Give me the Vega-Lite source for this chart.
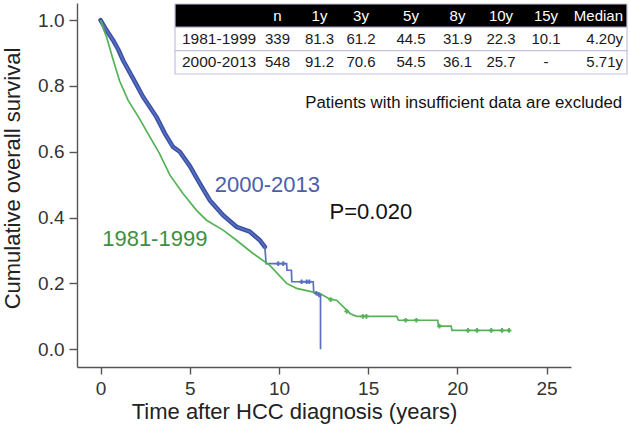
{
  "$schema": "https://vega.github.io/schema/vega-lite/v6.json",
  "width": 494,
  "height": 364,
  "autosize": {"type": "none"},
  "padding": {"left": 77, "top": 3, "right": 59, "bottom": 73},
  "background": "#ffffff",
  "config": {"view": {"stroke": null}, "font": "Liberation Sans"},
  "datasets": {
    "curves": [
      {"group": "2000-2013", "i": 0, "t": 0, "s": 1.0},
      {"group": "2000-2013", "i": 1, "t": 0.3, "s": 0.972},
      {"group": "2000-2013", "i": 2, "t": 0.7, "s": 0.939},
      {"group": "2000-2013", "i": 3, "t": 1.0, "s": 0.91},
      {"group": "2000-2013", "i": 4, "t": 1.26, "s": 0.878},
      {"group": "2000-2013", "i": 5, "t": 1.82, "s": 0.823},
      {"group": "2000-2013", "i": 6, "t": 2.38, "s": 0.767},
      {"group": "2000-2013", "i": 7, "t": 3.13, "s": 0.706},
      {"group": "2000-2013", "i": 8, "t": 3.6, "s": 0.656},
      {"group": "2000-2013", "i": 9, "t": 4.06, "s": 0.615},
      {"group": "2000-2013", "i": 10, "t": 4.44, "s": 0.6},
      {"group": "2000-2013", "i": 11, "t": 5.0, "s": 0.557},
      {"group": "2000-2013", "i": 12, "t": 5.56, "s": 0.504},
      {"group": "2000-2013", "i": 13, "t": 6.12, "s": 0.453},
      {"group": "2000-2013", "i": 14, "t": 6.87, "s": 0.407},
      {"group": "2000-2013", "i": 15, "t": 7.62, "s": 0.372},
      {"group": "2000-2013", "i": 16, "t": 8.37, "s": 0.357},
      {"group": "2000-2013", "i": 17, "t": 8.93, "s": 0.331},
      {"group": "2000-2013", "i": 18, "t": 9.21, "s": 0.311},
      {"group": "2000-2013", "i": 19, "t": 9.28, "s": 0.26},
      {"group": "2000-2013", "i": 20, "t": 10.43, "s": 0.26},
      {"group": "2000-2013", "i": 21, "t": 10.45, "s": 0.24},
      {"group": "2000-2013", "i": 22, "t": 10.7, "s": 0.24},
      {"group": "2000-2013", "i": 23, "t": 10.72, "s": 0.205},
      {"group": "2000-2013", "i": 24, "t": 11.92, "s": 0.205},
      {"group": "2000-2013", "i": 25, "t": 11.95, "s": 0.172},
      {"group": "2000-2013", "i": 26, "t": 12.33, "s": 0.164},
      {"group": "2000-2013", "i": 27, "t": 12.33, "s": 0.0},
      {"group": "1981-1999", "i": 0, "t": 0, "s": 1.0},
      {"group": "1981-1999", "i": 1, "t": 0.15, "s": 0.975},
      {"group": "1981-1999", "i": 2, "t": 0.33, "s": 0.95},
      {"group": "1981-1999", "i": 3, "t": 0.7, "s": 0.88},
      {"group": "1981-1999", "i": 4, "t": 1.07, "s": 0.815},
      {"group": "1981-1999", "i": 5, "t": 1.54, "s": 0.757},
      {"group": "1981-1999", "i": 6, "t": 2.19, "s": 0.7},
      {"group": "1981-1999", "i": 7, "t": 2.66, "s": 0.655},
      {"group": "1981-1999", "i": 8, "t": 3.3, "s": 0.595},
      {"group": "1981-1999", "i": 9, "t": 3.89, "s": 0.529},
      {"group": "1981-1999", "i": 10, "t": 4.62, "s": 0.473},
      {"group": "1981-1999", "i": 11, "t": 5.38, "s": 0.422},
      {"group": "1981-1999", "i": 12, "t": 5.94, "s": 0.392},
      {"group": "1981-1999", "i": 13, "t": 6.87, "s": 0.362},
      {"group": "1981-1999", "i": 14, "t": 7.62, "s": 0.331},
      {"group": "1981-1999", "i": 15, "t": 8.55, "s": 0.291},
      {"group": "1981-1999", "i": 16, "t": 9.49, "s": 0.255},
      {"group": "1981-1999", "i": 17, "t": 10.43, "s": 0.2},
      {"group": "1981-1999", "i": 18, "t": 10.99, "s": 0.185},
      {"group": "1981-1999", "i": 19, "t": 12.3, "s": 0.169},
      {"group": "1981-1999", "i": 20, "t": 12.86, "s": 0.152},
      {"group": "1981-1999", "i": 21, "t": 13.23, "s": 0.149},
      {"group": "1981-1999", "i": 22, "t": 14.0, "s": 0.108},
      {"group": "1981-1999", "i": 23, "t": 14.35, "s": 0.1},
      {"group": "1981-1999", "i": 24, "t": 16.6, "s": 0.1},
      {"group": "1981-1999", "i": 25, "t": 16.7, "s": 0.088},
      {"group": "1981-1999", "i": 26, "t": 18.9, "s": 0.088},
      {"group": "1981-1999", "i": 27, "t": 18.95, "s": 0.07},
      {"group": "1981-1999", "i": 28, "t": 19.65, "s": 0.07},
      {"group": "1981-1999", "i": 29, "t": 19.7, "s": 0.057},
      {"group": "1981-1999", "i": 30, "t": 22.9, "s": 0.057}
    ],
    "censor": [
      {"group": "1981-1999", "t": 12.9, "s": 0.151},
      {"group": "1981-1999", "t": 13.8, "s": 0.115},
      {"group": "1981-1999", "t": 14.7, "s": 0.1},
      {"group": "1981-1999", "t": 14.9, "s": 0.1},
      {"group": "1981-1999", "t": 17.1, "s": 0.088},
      {"group": "1981-1999", "t": 17.7, "s": 0.088},
      {"group": "1981-1999", "t": 19.0, "s": 0.07},
      {"group": "1981-1999", "t": 20.6, "s": 0.057},
      {"group": "1981-1999", "t": 21.1, "s": 0.057},
      {"group": "1981-1999", "t": 21.9, "s": 0.057},
      {"group": "1981-1999", "t": 22.5, "s": 0.057},
      {"group": "1981-1999", "t": 22.9, "s": 0.057},
      {"group": "2000-2013", "t": 9.96, "s": 0.26},
      {"group": "2000-2013", "t": 10.24, "s": 0.26},
      {"group": "2000-2013", "t": 11.27, "s": 0.205},
      {"group": "2000-2013", "t": 11.55, "s": 0.205},
      {"group": "2000-2013", "t": 11.7, "s": 0.205},
      {"group": "2000-2013", "t": 12.1, "s": 0.17},
      {"group": "2000-2013", "t": 12.25, "s": 0.165}
    ],
    "table": [
      {"row": 0, "col": 0, "text": ""},
      {"row": 0, "col": 1, "text": "n"},
      {"row": 0, "col": 2, "text": "1y"},
      {"row": 0, "col": 3, "text": "3y"},
      {"row": 0, "col": 4, "text": "5y"},
      {"row": 0, "col": 5, "text": "8y"},
      {"row": 0, "col": 6, "text": "10y"},
      {"row": 0, "col": 7, "text": "15y"},
      {"row": 0, "col": 8, "text": "Median"},
      {"row": 1, "col": 0, "text": "1981-1999"},
      {"row": 1, "col": 1, "text": "339"},
      {"row": 1, "col": 2, "text": "81.3"},
      {"row": 1, "col": 3, "text": "61.2"},
      {"row": 1, "col": 4, "text": "44.5"},
      {"row": 1, "col": 5, "text": "31.9"},
      {"row": 1, "col": 6, "text": "22.3"},
      {"row": 1, "col": 7, "text": "10.1"},
      {"row": 1, "col": 8, "text": "4.20y"},
      {"row": 2, "col": 0, "text": "2000-2013"},
      {"row": 2, "col": 1, "text": "548"},
      {"row": 2, "col": 2, "text": "91.2"},
      {"row": 2, "col": 3, "text": "70.6"},
      {"row": 2, "col": 4, "text": "54.5"},
      {"row": 2, "col": 5, "text": "36.1"},
      {"row": 2, "col": 6, "text": "25.7"},
      {"row": 2, "col": 7, "text": "-"},
      {"row": 2, "col": 8, "text": "5.71y"}
    ]
  },
  "layer": [
    {
      "layer": [
        {
          "data": {"name": "curves"},
          "transform": [{"filter": "datum.group === '2000-2013' && datum.t <= 9.21"}],
          "mark": {"type": "line", "strokeWidth": 4.5, "color": "#3750a3", "strokeJoin": "round", "strokeCap": "round"},
          "encoding": {
            "x": {
              "field": "t", "type": "quantitative",
              "scale": {"domain": [-1.32, 26.37], "nice": false, "zero": false},
              "axis": {
                "values": [0, 5, 10, 15, 20, 25], "title": "Time after HCC diagnosis (years)",
                "grid": false, "domainColor": "#555555", "domainWidth": 1.4,
                "tickColor": "#555555", "tickWidth": 1.4, "tickSize": 7,
                "labelFontSize": 19, "labelColor": "#333333", "labelPadding": 5, "labelFlush": false,
                "titleFontSize": 22, "titleFontWeight": "normal", "titleColor": "#222222",
                "titlePadding": 3, "titleX": 217
              }
            },
            "y": {
              "field": "s", "type": "quantitative",
              "scale": {"domain": [-0.054, 1.052], "nice": false, "zero": false},
              "axis": {
                "values": [0, 0.2, 0.4, 0.6, 0.8, 1.0], "format": ".1f",
                "title": "Cumulative overall survival",
                "grid": false, "domainColor": "#555555", "domainWidth": 1.4,
                "tickColor": "#555555", "tickWidth": 1.4, "tickSize": 8,
                "labelFontSize": 19, "labelColor": "#333333", "labelPadding": 5, "labelFlush": false,
                "titleFontSize": 22, "titleFontWeight": "normal", "titleColor": "#222222",
                "titlePadding": 13, "titleY": 175
              }
            },
            "order": {"field": "i", "type": "quantitative"}
          }
        },
        {
          "data": {"name": "curves"},
          "mark": {"type": "line", "strokeWidth": 1.7},
          "encoding": {
            "x": {"field": "t", "type": "quantitative", "scale": {"domain": [-1.32, 26.37], "nice": false, "zero": false}},
            "y": {"field": "s", "type": "quantitative", "scale": {"domain": [-0.054, 1.052], "nice": false, "zero": false}},
            "color": {"field": "group", "type": "nominal", "scale": {"domain": ["1981-1999", "2000-2013"], "range": ["#55b257", "#5a6fbf"]}, "legend": null},
            "order": {"field": "i", "type": "quantitative"}
          }
        },
        {
          "data": {"name": "censor"},
          "mark": {"type": "point", "shape": "cross", "filled": true, "size": 22, "opacity": 1},
          "encoding": {
            "x": {"field": "t", "type": "quantitative", "scale": {"domain": [-1.32, 26.37], "nice": false, "zero": false}},
            "y": {"field": "s", "type": "quantitative", "scale": {"domain": [-0.054, 1.052], "nice": false, "zero": false}},
            "color": {"field": "group", "type": "nominal", "scale": {"domain": ["1981-1999", "2000-2013"], "range": ["#55b257", "#5a6fbf"]}, "legend": null}
          }
        },
        {
          "data": {"values": [{"label": "2000-2013"}]},
          "mark": {"type": "text", "fontSize": 22, "color": "#4a5eae", "align": "center", "baseline": "middle"},
          "encoding": {
            "x": {"datum": 9.35, "type": "quantitative", "scale": {"domain": [-1.32, 26.37], "nice": false, "zero": false}},
            "y": {"datum": 0.5, "type": "quantitative", "scale": {"domain": [-0.054, 1.052], "nice": false, "zero": false}},
            "text": {"field": "label"}
          }
        },
        {
          "data": {"values": [{"label": "1981-1999"}]},
          "mark": {"type": "text", "fontSize": 22, "color": "#3f8f3f", "align": "center", "baseline": "middle"},
          "encoding": {
            "x": {"datum": 3.04, "type": "quantitative", "scale": {"domain": [-1.32, 26.37], "nice": false, "zero": false}},
            "y": {"datum": 0.334, "type": "quantitative", "scale": {"domain": [-0.054, 1.052], "nice": false, "zero": false}},
            "text": {"field": "label"}
          }
        },
        {
          "data": {"values": [{"label": "P=0.020"}]},
          "mark": {"type": "text", "fontSize": 22, "color": "#111111", "align": "center", "baseline": "middle"},
          "encoding": {
            "x": {"datum": 15.15, "type": "quantitative", "scale": {"domain": [-1.32, 26.37], "nice": false, "zero": false}},
            "y": {"datum": 0.416, "type": "quantitative", "scale": {"domain": [-0.054, 1.052], "nice": false, "zero": false}},
            "text": {"field": "label"}
          }
        },
        {
          "data": {"values": [{"label": "Patients with insufficient data are excluded"}]},
          "mark": {"type": "text", "fontSize": 16.8, "color": "#111111", "align": "right", "baseline": "middle"},
          "encoding": {
            "x": {"datum": 29.24, "type": "quantitative", "scale": {"domain": [-1.32, 26.37], "nice": false, "zero": false}},
            "y": {"datum": 0.749, "type": "quantitative", "scale": {"domain": [-0.054, 1.052], "nice": false, "zero": false}},
            "text": {"field": "label"}
          }
        }
      ]
    },
    {
      "data": {"name": "table"},
      "layer": [
        {
          "transform": [{"filter": "datum.col === 0"}],
          "mark": {"type": "rect", "stroke": "#c6c0e2", "strokeWidth": 1.2},
          "encoding": {
            "x": {"datum": -1, "type": "quantitative", "scale": {"type": "linear", "domain": [-1, 0, 1, 2, 3, 4, 5, 6, 7, 8, 9], "range": [98, 105, 200.5, 242.5, 284, 334, 380.5, 424, 469, 546, 550], "nice": false, "zero": false}, "axis": null},
            "x2": {"datum": 9},
            "y": {"field": "row", "type": "ordinal", "scale": {"type": "band", "domain": [0, 1, 2], "range": [1, 71], "paddingInner": 0, "paddingOuter": 0}, "axis": null},
            "fill": {"condition": {"test": "datum.row === 0", "value": "#000000"}, "value": "#ffffff"}
          }
        },
        {
          "transform": [{"filter": "datum.col === 0"}],
          "mark": {"type": "text", "align": "left", "baseline": "middle", "fontSize": 15.5},
          "encoding": {
            "x": {"field": "col", "type": "quantitative", "scale": {"type": "linear", "domain": [-1, 0, 1, 2, 3, 4, 5, 6, 7, 8, 9], "range": [98, 105, 200.5, 242.5, 284, 334, 380.5, 424, 469, 546, 550], "nice": false, "zero": false}, "axis": null},
            "y": {"field": "row", "type": "ordinal", "scale": {"type": "band", "domain": [0, 1, 2], "range": [1, 71], "paddingInner": 0, "paddingOuter": 0}, "axis": null},
            "text": {"field": "text"},
            "color": {"condition": {"test": "datum.row === 0", "value": "#ffffff"}, "value": "#1a1a1a"}
          }
        },
        {
          "transform": [{"filter": "datum.col >= 1 && datum.col <= 7"}],
          "mark": {"type": "text", "align": "center", "baseline": "middle", "fontSize": 15},
          "encoding": {
            "x": {"field": "col", "type": "quantitative", "scale": {"type": "linear", "domain": [-1, 0, 1, 2, 3, 4, 5, 6, 7, 8, 9], "range": [98, 105, 200.5, 242.5, 284, 334, 380.5, 424, 469, 546, 550], "nice": false, "zero": false}, "axis": null},
            "y": {"field": "row", "type": "ordinal", "scale": {"type": "band", "domain": [0, 1, 2], "range": [1, 71], "paddingInner": 0, "paddingOuter": 0}, "axis": null},
            "text": {"field": "text"},
            "color": {"condition": {"test": "datum.row === 0", "value": "#ffffff"}, "value": "#1a1a1a"}
          }
        },
        {
          "transform": [{"filter": "datum.col === 8"}],
          "mark": {"type": "text", "align": "right", "baseline": "middle", "fontSize": 15},
          "encoding": {
            "x": {"field": "col", "type": "quantitative", "scale": {"type": "linear", "domain": [-1, 0, 1, 2, 3, 4, 5, 6, 7, 8, 9], "range": [98, 105, 200.5, 242.5, 284, 334, 380.5, 424, 469, 546, 550], "nice": false, "zero": false}, "axis": null},
            "y": {"field": "row", "type": "ordinal", "scale": {"type": "band", "domain": [0, 1, 2], "range": [1, 71], "paddingInner": 0, "paddingOuter": 0}, "axis": null},
            "text": {"field": "text"},
            "color": {"condition": {"test": "datum.row === 0", "value": "#ffffff"}, "value": "#1a1a1a"}
          }
        }
      ]
    }
  ],
  "resolve": {"scale": {"x": "independent", "y": "independent"}}
}
